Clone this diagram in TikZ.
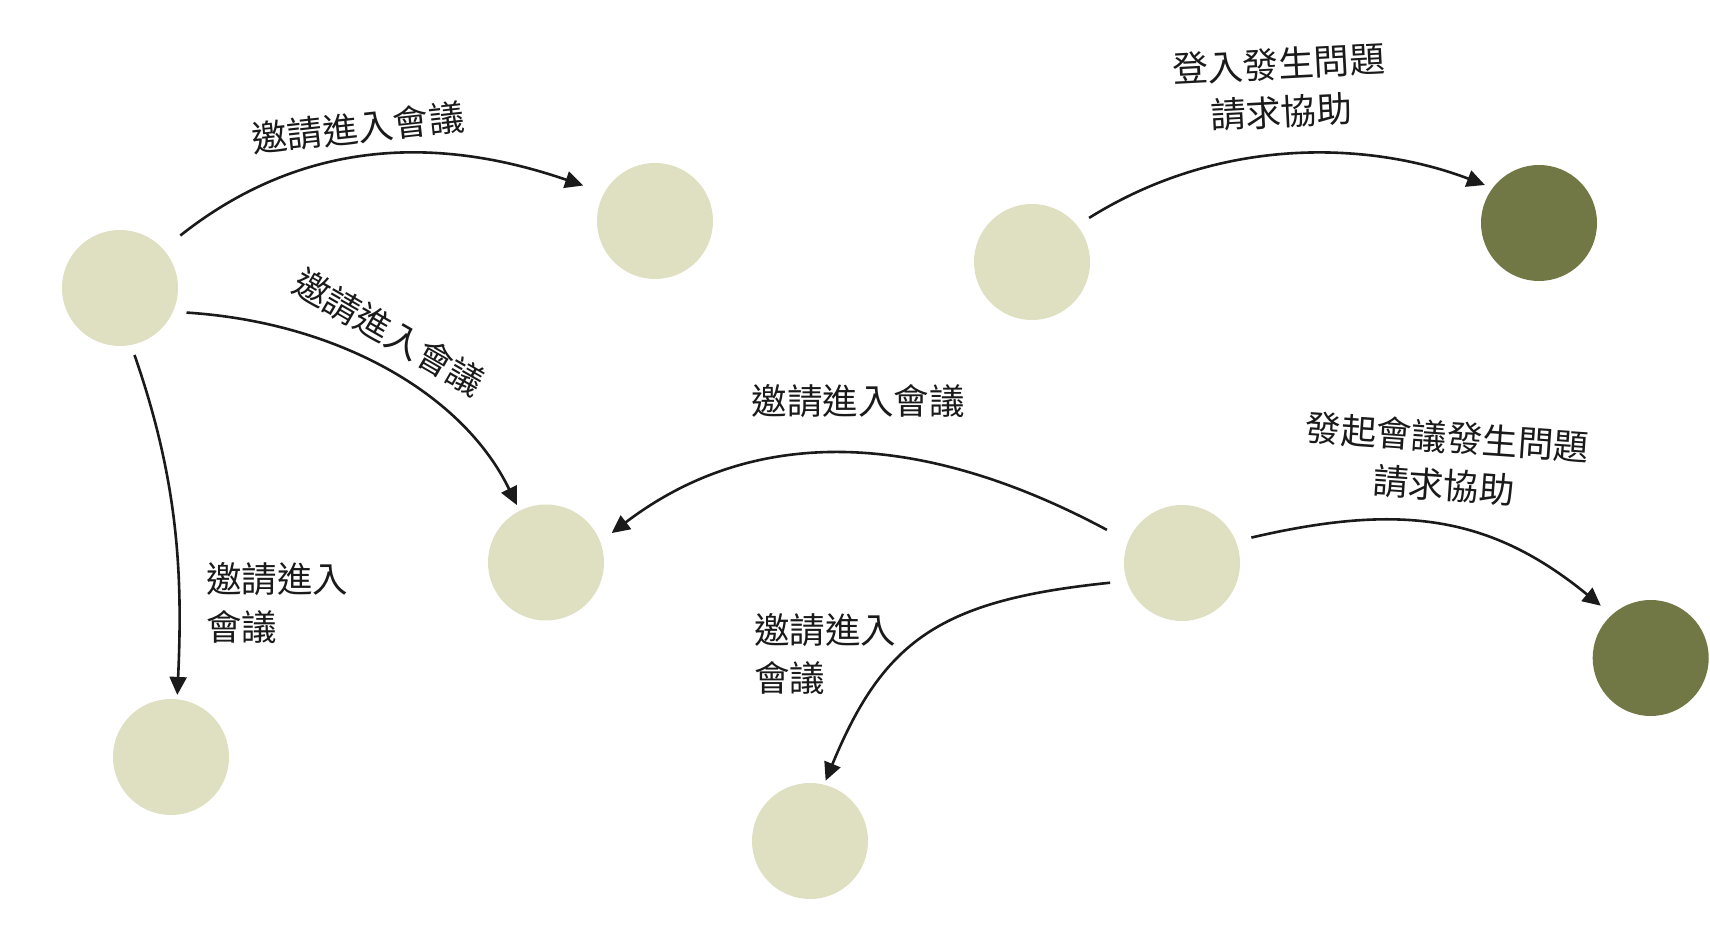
\documentclass[tikz,border=0pt]{standalone}
\usepackage{fontspec}
\setmainfont{Noto Sans CJK TC}
\usetikzlibrary{arrows.meta}
\definecolor{lightc}{RGB}{223,224,194}
\definecolor{darkc}{RGB}{114,120,69}
\definecolor{inkc}{RGB}{26,26,26}
\begin{document}
\begin{tikzpicture}[x=0.5pt,y=-0.5pt,
  dot/.style={circle,fill=lightc,draw=none,minimum size=58pt,inner sep=0pt},
  dotdark/.style={dot,fill=darkc},
  conn/.style={draw=inkc,line width=1.3pt,-{Triangle[length=9pt,width=8.5pt]}},
  lbl/.style={text=inkc,inner sep=0pt,font=\fontsize{17.75pt}{24pt}\selectfont}]
\fill[white] (0,0) rectangle (1710,930);
\useasboundingbox (0,0) rectangle (1710,930);
% circles
\node[dot] (A) at (120,288) {};
\node[dot] (B) at (655,221) {};
\node[dot] (C) at (1032,262) {};
\node[dotdark] (D) at (1539,223) {};
\node[dot] (E) at (546,562.5) {};
\node[dot] (F) at (1182,563) {};
\node[dot] (G) at (171,757) {};
\node[dotdark] (H) at (1650.7,658) {};
\node[dot] (I) at (810,841) {};
% connectors
\draw[conn,shorten <=10.8pt,shorten >=11pt] (A.42.7) .. controls (320,125) and (465,145) .. (B.151.9);
\draw[conn,shorten <=6.6pt,shorten >=3pt] (A.-24) .. controls (335,322) and (462,392) .. (E.117.5);
\draw[conn,shorten <=5.1pt,shorten >=2pt] (A.-79.3) .. controls (178,480) and (183,573) .. (G.84.6);
\draw[conn,shorten <=6.9pt,shorten >=4pt] (C.39.1) .. controls (1225,133) and (1375,143) .. (D.143.6);
\draw[conn,shorten <=11.9pt,shorten >=7pt] (F.158.5) .. controls (930,435) and (760,420) .. (E.21.9);
\draw[conn,shorten <=8.2pt,shorten >=2pt] (F.-162.8) .. controls (941.7,600) and (884,639) .. (I.76.8);
\draw[conn,shorten <=7.8pt,shorten >=7pt] (F.22.4) .. controls (1400,503) and (1490,515) .. (H.132.6);
% labels
\node[lbl,rotate=6.2] (l1) at (358,128) {邀請進入會議};
\node[lbl,rotate=-30] (l2) at (389,332) {邀請進入會議};
\node[lbl,align=left,anchor=west] (l3) at (206,603) {邀請進入\\會議};
\node[lbl] (l4) at (858,401) {邀請進入會議};
\node[lbl,align=left,anchor=west] (l5) at (754,654) {邀請進入\\會議};
\node[lbl,align=center,rotate=3] (l6) at (1280,88) {登入發生問題\\請求協助};
\node[lbl,align=center,rotate=-4] (l7) at (1445.5,461.5) {發起會議發生問題\\請求協助};
\end{tikzpicture}
\end{document}
